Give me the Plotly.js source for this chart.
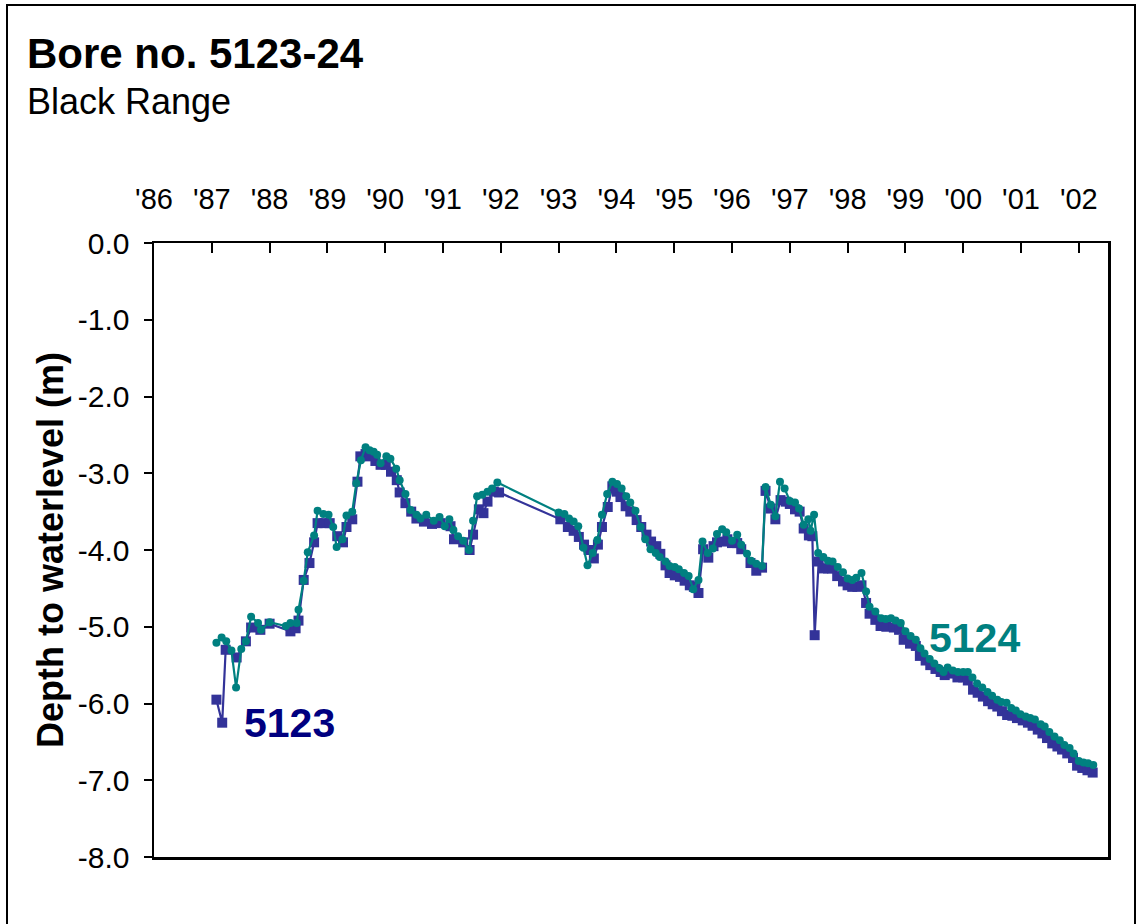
<!DOCTYPE html>
<html>
<head>
<meta charset="utf-8">
<script src="https://cdn.plot.ly/plotly-3.0.1.min.js"></script>
<style>
  html, body { margin: 0; padding: 0; background: #fff; }
  #chart { width: 1136px; height: 924px; }
</style>
</head>
<body>
<div id="chart"></div>
<script>
// Bore 5123 (squares) - decimal year, depth to waterlevel (m)
const years5123 = [
  1987.08, 1987.18, 1987.24, 1987.43, 1987.59, 1987.68, 1987.84, 1988.00, 1988.36, 1988.45,
  1988.50, 1988.59, 1988.69, 1988.77, 1988.83, 1988.95, 1989.04, 1989.17, 1989.27, 1989.33,
  1989.43, 1989.52, 1989.57, 1989.66, 1989.73, 1989.83, 1989.92, 1990.01, 1990.10, 1990.20,
  1990.25, 1990.35, 1990.45, 1990.54, 1990.67, 1990.81, 1990.96, 1991.13, 1991.19, 1991.35,
  1991.46, 1991.52, 1991.62, 1991.70, 1991.77, 1991.88, 1991.97, 1993.03, 1993.16, 1993.26,
  1993.35, 1993.44, 1993.52, 1993.61, 1993.68, 1993.75, 1993.85, 1993.93, 1994.01, 1994.07,
  1994.16, 1994.24, 1994.35, 1994.43, 1994.52, 1994.60, 1994.69, 1994.76, 1994.85, 1994.92,
  1995.01, 1995.10, 1995.18, 1995.27, 1995.34, 1995.42, 1995.50, 1995.59, 1995.68, 1995.74,
  1995.83, 1995.92, 1996.00, 1996.09, 1996.16, 1996.32, 1996.42, 1996.52, 1996.58, 1996.67,
  1996.75, 1996.84, 1996.93, 1997.00, 1997.09, 1997.17, 1997.24, 1997.33, 1997.39, 1997.43,
  1997.50, 1997.58, 1997.66, 1997.73, 1997.82, 1997.92, 1998.00, 1998.08, 1998.17, 1998.24,
  1998.32, 1998.38, 1998.48, 1998.57, 1998.67, 1998.80, 1998.89, 1998.97, 1999.08, 1999.18,
  1999.25, 1999.35, 1999.43, 1999.52, 1999.61, 1999.68, 1999.79, 1999.90, 2000.00, 2000.08,
  2000.17, 2000.25, 2000.34, 2000.43, 2000.51, 2000.59, 2000.67, 2000.76, 2000.85, 2000.93,
  2001.03, 2001.12, 2001.20, 2001.29, 2001.37, 2001.45, 2001.54, 2001.63, 2001.71, 2001.80,
  2001.90, 2001.97, 2002.06, 2002.15, 2002.24
];
const depth5123 = [
  -5.95, -6.25, -5.30, -5.40, -5.19, -5.01, -5.04, -4.96, -5.06, -5.02,
  -4.92, -4.39, -4.17, -3.90, -3.65, -3.65, -3.65, -3.82, -3.90, -3.70,
  -3.60, -3.11, -2.78, -2.75, -2.78, -2.84, -2.89, -2.89, -2.98, -3.09,
  -3.25, -3.39, -3.50, -3.59, -3.63, -3.66, -3.65, -3.69, -3.86, -3.90,
  -4.00, -3.80, -3.47, -3.52, -3.37, -3.24, -3.25, -3.60, -3.70, -3.75,
  -3.83, -3.93, -4.00, -4.11, -3.93, -3.70, -3.44, -3.17, -3.24, -3.31,
  -3.43, -3.50, -3.61, -3.70, -3.80, -3.89, -3.95, -4.05, -4.20, -4.30,
  -4.33, -4.35, -4.40, -4.46, -4.48, -4.56, -3.99, -4.10, -3.95, -3.90,
  -3.89, -3.86, -3.91, -3.91, -3.99, -4.17, -4.27, -4.23, -3.23, -3.46,
  -3.60, -3.35, -3.37, -3.40, -3.47, -3.50, -3.72, -3.81, -3.82, -5.11,
  -4.15, -4.24, -4.24, -4.24, -4.34, -4.41, -4.46, -4.48, -4.48, -4.46,
  -4.69, -4.83, -4.91, -4.99, -5.00, -5.01, -5.04, -5.17, -5.22, -5.25,
  -5.38, -5.44, -5.50, -5.55, -5.59, -5.63, -5.61, -5.66, -5.66, -5.70,
  -5.82, -5.86, -5.91, -5.97, -6.01, -6.04, -6.10, -6.15, -6.16, -6.19,
  -6.22, -6.25, -6.29, -6.34, -6.39, -6.45, -6.52, -6.56, -6.60, -6.65,
  -6.71, -6.81, -6.84, -6.87, -6.90
];

// Bore 5124 (circles)
const years5124 = [
  1987.08, 1987.17, 1987.25, 1987.34, 1987.42, 1987.51, 1987.59, 1987.68, 1987.80, 1987.85,
  1988.00, 1988.28, 1988.36, 1988.47, 1988.50, 1988.59, 1988.66, 1988.77, 1988.83, 1988.93,
  1989.02, 1989.10, 1989.16, 1989.26, 1989.33, 1989.43, 1989.50, 1989.58, 1989.66, 1989.73,
  1989.80, 1989.86, 1989.92, 1990.02, 1990.09, 1990.19, 1990.25, 1990.35, 1990.44, 1990.54,
  1990.61, 1990.71, 1990.84, 1990.94, 1991.03, 1991.11, 1991.18, 1991.26, 1991.35, 1991.45,
  1991.52, 1991.59, 1991.68, 1991.77, 1991.85, 1991.94, 1993.00, 1993.10, 1993.18, 1993.26,
  1993.34, 1993.43, 1993.50, 1993.59, 1993.67, 1993.75, 1993.84, 1993.93, 1994.01, 1994.09,
  1994.17, 1994.24, 1994.33, 1994.42, 1994.50, 1994.59, 1994.68, 1994.75, 1994.85, 1994.92,
  1995.01, 1995.08, 1995.17, 1995.25, 1995.33, 1995.42, 1995.49, 1995.58, 1995.67, 1995.74,
  1995.83, 1995.90, 1996.00, 1996.09, 1996.16, 1996.26, 1996.33, 1996.42, 1996.52, 1996.58,
  1996.67, 1996.75, 1996.83, 1996.91, 1997.00, 1997.09, 1997.16, 1997.24, 1997.32, 1997.36,
  1997.42, 1997.49, 1997.58, 1997.66, 1997.74, 1997.83, 1997.92, 1998.00, 1998.08, 1998.15,
  1998.24, 1998.32, 1998.38, 1998.48, 1998.58, 1998.66, 1998.75, 1998.83, 1998.92, 1999.00,
  1999.09, 1999.18, 1999.26, 1999.33, 1999.42, 1999.50, 1999.59, 1999.66, 1999.73, 1999.82,
  1999.91, 2000.00, 2000.08, 2000.16, 2000.24, 2000.33, 2000.42, 2000.50, 2000.59, 2000.66,
  2000.75, 2000.83, 2000.91, 2000.99, 2001.08, 2001.16, 2001.24, 2001.34, 2001.41, 2001.49,
  2001.58, 2001.67, 2001.75, 2001.84, 2001.91, 2002.00, 2002.08, 2002.16, 2002.25
];
const depth5124 = [
  -5.21, -5.14, -5.19, -5.31, -5.79, -5.29, -5.19, -4.87, -4.95, -5.04,
  -4.94, -4.99, -4.95, -4.95, -4.78, -4.40, -4.03, -3.81, -3.49, -3.53,
  -3.54, -3.70, -3.96, -3.86, -3.55, -3.50, -3.13, -2.83, -2.66, -2.70,
  -2.72, -2.76, -2.87, -2.78, -2.81, -2.94, -3.09, -3.27, -3.48, -3.54,
  -3.59, -3.54, -3.62, -3.57, -3.69, -3.60, -3.74, -3.82, -3.88, -4.00,
  -3.62, -3.30, -3.28, -3.24, -3.20, -3.12, -3.51, -3.53, -3.59, -3.63,
  -3.69, -3.97, -4.20, -4.04, -3.87, -3.54, -3.27, -3.11, -3.14, -3.20,
  -3.30, -3.38, -3.49, -3.70, -3.86, -3.99, -4.04, -4.09, -4.15, -4.21,
  -4.22, -4.25, -4.30, -4.34, -4.51, -4.39, -3.89, -4.04, -3.98, -3.79,
  -3.73, -3.77, -3.88, -3.80, -3.93, -4.05, -4.14, -4.18, -4.21, -3.18,
  -3.41, -3.56, -3.11, -3.20, -3.36, -3.38, -3.46, -3.67, -3.60, -3.75,
  -3.54, -4.04, -4.09, -4.14, -4.15, -4.22, -4.29, -4.37, -4.39, -4.36,
  -4.30, -4.54, -4.74, -4.80, -4.89, -4.90, -4.89, -4.92, -4.95, -5.06,
  -5.12, -5.17, -5.28, -5.35, -5.42, -5.48, -5.54, -5.59, -5.53, -5.57,
  -5.59, -5.59, -5.59, -5.66, -5.74, -5.79, -5.85, -5.90, -5.95, -5.98,
  -5.99, -6.06, -6.09, -6.14, -6.17, -6.19, -6.21, -6.27, -6.30, -6.37,
  -6.43, -6.48, -6.54, -6.58, -6.65, -6.75, -6.77, -6.78, -6.80
];

const yearTicks = [1986, 1987, 1988, 1989, 1990, 1991, 1992, 1993, 1994, 1995, 1996, 1997, 1998, 1999, 2000, 2001, 2002];
const yearLabels = ["'86", "'87", "'88", "'89", "'90", "'91", "'92", "'93", "'94", "'95", "'96", "'97", "'98", "'99", "'00", "'01", "'02"];
const depthTicks = [0, -1, -2, -3, -4, -5, -6, -7, -8];
const depthLabels = ["0.0", "-1.0", "-2.0", "-3.0", "-4.0", "-5.0", "-6.0", "-7.0", "-8.0"];

const FONT = "Liberation Sans, Arial, Helvetica, sans-serif";
const C5123 = "#333399";
const C5124 = "#008080";

const traces = [
  {
    x: years5123, y: depth5123, type: "scatter", mode: "lines+markers", name: "5123",
    line: { color: C5123, width: 2.2 },
    marker: { symbol: "square", size: 10, color: C5123 },
    hoverinfo: "x+y"
  },
  {
    x: years5124, y: depth5124, type: "scatter", mode: "lines+markers", name: "5124",
    line: { color: C5124, width: 2.2 },
    marker: { symbol: "circle", size: 8, color: C5124 },
    hoverinfo: "x+y"
  }
];

const layout = {
  width: 1136, height: 924,
  margin: { l: 154, r: 28, t: 243, b: 67, pad: 0 },
  paper_bgcolor: "#ffffff", plot_bgcolor: "#ffffff",
  showlegend: false,
  font: { family: FONT, color: "#000000" },
  title: {
    text: "Bore no. 5123-24",
    font: { family: FONT, size: 42, weight: "bold", color: "#000000" },
    x: 27 / 1136, xref: "container", xanchor: "left",
    y: 1 - 39 / 924, yref: "container", yanchor: "top"
  },
  xaxis: {
    side: "top",
    range: [1986, 2002.505],
    tickmode: "array", tickvals: yearTicks, ticktext: yearLabels,
    ticks: "inside", ticklen: 10, tickwidth: 2, tickcolor: "#000000",
    tickfont: { family: FONT, size: 29, color: "#000000" },
    ticklabelstandoff: 20,
    showline: true, linecolor: "#000000", linewidth: 2.5, mirror: true,
    showgrid: false, zeroline: false, fixedrange: true
  },
  yaxis: {
    range: [-8, 0],
    tickmode: "array", tickvals: depthTicks, ticktext: depthLabels,
    ticks: "outside", ticklen: 8, tickwidth: 2, tickcolor: "#000000",
    tickfont: { family: FONT, size: 30, color: "#000000" },
    ticklabelstandoff: 8,
    showline: true, linecolor: "#000000", linewidth: 2.5, mirror: true,
    showgrid: false, zeroline: false, fixedrange: true,
    title: {
      text: "Depth to waterlevel (m)",
      font: { family: FONT, size: 36, weight: "bold", color: "#000000" },
      standoff: 3
    }
  },
  annotations: [
    {
      x: (25 - 154) / 954, y: (857 - 102) / 614, xref: "paper", yref: "paper",
      text: "Black Range", showarrow: false,
      font: { family: FONT, size: 36, color: "#000000" },
      xanchor: "left", yanchor: "middle"
    },
    {
      x: 1988.34, y: -6.25, xref: "x", yref: "y", text: "5123", showarrow: false,
      font: { family: FONT, size: 41, weight: "bold", color: "#000080" },
      xanchor: "center", yanchor: "middle"
    },
    {
      x: 2000.19, y: -5.15, xref: "x", yref: "y", text: "5124", showarrow: false,
      font: { family: FONT, size: 41, weight: "bold", color: "#008080" },
      xanchor: "center", yanchor: "middle"
    }
  ],
  shapes: [
    {
      type: "rect", xref: "paper", yref: "paper",
      x0: (7 - 154) / 954, x1: (1135 - 154) / 954,
      y0: -0.2, y1: (857 - 5) / 614,
      line: { color: "#000000", width: 2 }, fillcolor: "rgba(0,0,0,0)", layer: "below"
    }
  ]
};

Plotly.newPlot("chart", traces, layout, { displayModeBar: false, staticPlot: true });
</script>
</body>
</html>
